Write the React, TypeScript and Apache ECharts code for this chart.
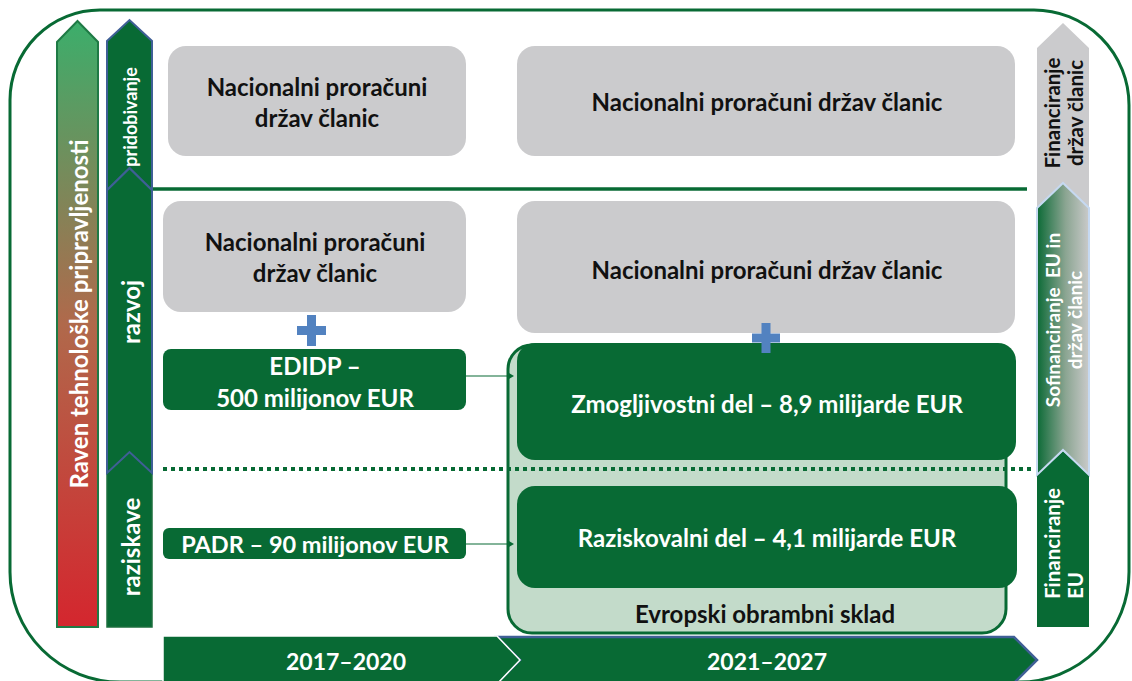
import React, { useEffect, useRef } from "react";
import * as echarts from "echarts";

// ---- content (texts of the diagram) ----
const trlLabel = "Raven tehnološke pripravljenosti";
const stageLabels = ["pridobivanje", "razvoj", "raziskave"];
const periods = ["2017–2020", "2021–2027"];
const nationalBudgetTwoLines = "Nacionalni proračuni\ndržav članic";
const nationalBudgetOneLine = "Nacionalni proračuni držav članic";
const programmes = ["EDIDP –\n500 milijonov EUR", "PADR – 90 milijonov EUR"];
const fundParts = ["Zmogljivostni del – 8,9 milijarde EUR", "Raziskovalni del – 4,1 milijarde EUR"];
const fundName = "Evropski obrambni sklad";
const fundingSources = ["Financiranje\ndržav članic", "Sofinanciranje  EU in\ndržav članic", "Financiranje\nEU"];

const GREEN = "#086a34";
const GREY = "#cbcbcd";
const LIGHT_GREEN = "#c3dbca";
const BLUE = "#3f5f96";
const PLUS = "#5282c0";
const FONT = "Lato";

function txt(text: string, x: number, y: number, size: number, fill: string, opts: any = {}) {
  return {
    type: "text",
    x,
    y,
    rotation: opts.rotation || 0,
    z: opts.z || 10,
    style: {
      text,
      fill,
      fontSize: size,
      fontWeight: "bold",
      fontFamily: FONT,
      textAlign: opts.align || "center",
      align: opts.align || "center",
      textVerticalAlign: "middle",
      verticalAlign: "middle",
      lineHeight: opts.lineHeight || size * 1.3,
    },
  };
}

function rrect(x: number, y: number, w: number, h: number, r: any, fill: any, z: number, stroke?: string, lw?: number) {
  return {
    type: "rect",
    z,
    shape: { x, y, width: w, height: h, r },
    style: { fill, stroke: stroke || null, lineWidth: lw || 0 },
  };
}

function poly(points: number[][], fill: any, z: number, stroke?: string, lw?: number) {
  return {
    type: "polygon",
    z,
    shape: { points },
    style: { fill, stroke: stroke || null, lineWidth: lw || 0, lineJoin: "miter" },
  };
}

function plus(cx: number, cy: number, w: number, h: number, t: number, z: number) {
  const hw = w / 2, hh = h / 2, ht = t / 2;
  return poly(
    [
      [cx - ht, cy - hh], [cx + ht, cy - hh], [cx + ht, cy - ht], [cx + hw, cy - ht],
      [cx + hw, cy + ht], [cx + ht, cy + ht], [cx + ht, cy + hh], [cx - ht, cy + hh],
      [cx - ht, cy + ht], [cx - hw, cy + ht], [cx - hw, cy - ht], [cx - ht, cy - ht],
    ],
    PLUS,
    z
  );
}

function connector(x1: number, x2: number, y: number) {
  return [
    { type: "line", z: 6, shape: { x1, y1: y, x2: x2 - 4, y2: y }, style: { stroke: GREEN, lineWidth: 1.2 } },
    poly([[x2 - 6, y - 3.5], [x2, y], [x2 - 6, y + 3.5]], GREEN, 6),
  ];
}

function buildGraphics() {
  const els: any[] = [];
  // outer rounded frame
  els.push(rrect(10, 10, 1119, 672, [90, 95, 110, 110], "none", 1, GREEN, 3));

  // left TRL arrow
  els.push(
    poly(
      [[57, 42], [77.5, 21], [98, 42], [98, 627], [57, 627]],
      {
        type: "linear", x: 0, y: 0, x2: 0, y2: 1,
        colorStops: [
          { offset: 0, color: "#3bae6b" },
          { offset: 0.5, color: "#b0694b" },
          { offset: 1, color: "#d4262e" },
        ],
      },
      2, "#1f7a45", 2
    )
  );
  els.push(txt(trlLabel, 78, 314, 24, "#ffffff", { rotation: Math.PI / 2 }));

  // stage chevrons (column 2)
  const c0 = 107, c1 = 152, cm = 129.5;
  els.push(poly([[c0, 473], [cm, 452], [c1, 473], [c1, 627], [c0, 627]], GREEN, 2, "#1c6f3e", 1.5));
  els.push(poly([[c0, 190], [cm, 168], [c1, 190], [c1, 473], [cm, 452], [c0, 473]], GREEN, 3, BLUE, 2));
  els.push(poly([[c0, 41], [cm, 20], [c1, 41], [c1, 190], [cm, 168], [c0, 190]], GREEN, 3, BLUE, 2));
  els.push(txt(stageLabels[0], 130, 117, 18, "#ffffff", { rotation: Math.PI / 2 }));
  els.push(txt(stageLabels[1], 130, 312, 24, "#ffffff", { rotation: Math.PI / 2 }));
  els.push(txt(stageLabels[2], 130, 547, 24, "#ffffff", { rotation: Math.PI / 2 }));

  // separators
  els.push({ type: "line", z: 2, shape: { x1: 152, y1: 189, x2: 1027, y2: 189 }, style: { stroke: GREEN, lineWidth: 3.5 } });
  els.push({
    type: "line", z: 7,
    shape: { x1: 163, y1: 469, x2: 1032, y2: 469 },
    style: { stroke: GREEN, lineWidth: 4, lineDash: [4, 4] },
  });

  // grey national budget boxes
  els.push(rrect(168, 46, 298, 110, 18, GREY, 3));
  els.push(txt(nationalBudgetTwoLines, 317, 102, 24, "#111111", { lineHeight: 31 }));
  els.push(rrect(517, 46, 498, 110, 18, GREY, 3));
  els.push(txt(nationalBudgetOneLine, 767, 101, 24, "#111111"));
  els.push(rrect(163, 201, 303, 111, 18, GREY, 3));
  els.push(txt(nationalBudgetTwoLines, 315, 257, 24, "#111111", { lineHeight: 31 }));
  els.push(rrect(517, 201, 498, 132, 18, GREY, 3));
  els.push(txt(nationalBudgetOneLine, 767, 269, 24, "#111111"));

  // programmes 2017-2020
  els.push(rrect(163, 349, 303, 61, 8, GREEN, 4));
  els.push(txt(programmes[0], 315, 381, 24, "#ffffff", { lineHeight: 32 }));
  els.push(rrect(163, 528, 303, 31, 6, GREEN, 4));
  els.push(txt(programmes[1], 315, 544, 23.5, "#ffffff"));
  els.push(plus(311.5, 330.5, 29, 31, 9, 8));
  els.push(...connector(466, 514, 376));
  els.push(...connector(466, 514, 544));

  // European defence fund container
  els.push(rrect(508, 345, 498, 288, 24, LIGHT_GREEN, 4, GREEN, 3));
  els.push(rrect(517, 343, 499, 117, 18, GREEN, 5));
  els.push(txt(fundParts[0], 767, 403, 24, "#ffffff"));
  els.push(rrect(517, 486, 500, 102, 18, GREEN, 5));
  els.push(txt(fundParts[1], 767, 537, 24, "#ffffff"));
  els.push(txt(fundName, 765, 613, 24, "#111111"));
  els.push(plus(766, 338, 28, 30, 9, 8));

  // period arrows
  els.push(poly([[497, 637], [1014, 637], [1037, 660], [1014, 683], [497, 683], [520, 660]], GREEN, 3, BLUE, 2.5));
  els.push(poly([[163, 636], [497, 636], [520, 660], [497, 684], [163, 684]], GREEN, 4, "#ffffff", 1.5));
  els.push(txt(periods[0], 346, 661, 23, "#ffffff"));
  els.push(txt(periods[1], 767, 661, 23, "#ffffff"));

  // funding arrows (right column)
  const r0 = 1037, r1 = 1089, rm = 1063;
  els.push(poly([[r0, 48], [rm, 23], [r1, 48], [r1, 208], [rm, 183], [r0, 208]], GREY, 2));
  els.push(
    poly(
      [[r0, 208], [rm, 183], [r1, 208], [r1, 475], [rm, 450], [r0, 475]],
      {
        type: "linear", x: 0, y: 0, x2: 1, y2: 0,
        colorStops: [
          { offset: 0, color: "#0b6a36" },
          { offset: 0.55, color: "#8ba592" },
          { offset: 1, color: "#cacaca" },
        ],
      },
      3, "#c6d9f1", 2
    )
  );
  els.push(poly([[r0, 475], [rm, 451], [r1, 475], [r1, 627], [r0, 627]], GREEN, 2));
  els.push(txt(fundingSources[0], 1063, 113, 20.5, "#111111", { rotation: Math.PI / 2, lineHeight: 23 }));
  els.push(txt(fundingSources[1], 1063, 320, 19, "#ffffff", { rotation: Math.PI / 2, lineHeight: 22 }));
  els.push(txt(fundingSources[2], 1063, 599, 20.5, "#ffffff", { rotation: Math.PI / 2, lineHeight: 23, align: "left" }));

  return els;
}

export default function App() {
  const ref = useRef<HTMLDivElement>(null);
  useEffect(() => {
    if (!ref.current) return;
    const chart = echarts.init(ref.current, undefined, { renderer: "svg" });
    chart.setOption({
      animation: false,
      backgroundColor: "#ffffff",
      graphic: { elements: buildGraphics() },
    });
    return () => chart.dispose();
  }, []);
  return (
    <div
      ref={ref}
      style={{ position: "fixed", left: 0, top: 0, width: 1132, height: 681, background: "#fff" }}
    />
  );
}
